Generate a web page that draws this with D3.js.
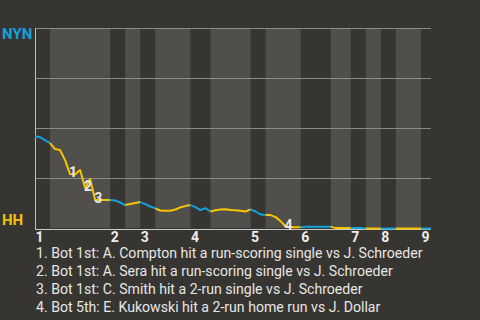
<!DOCTYPE html>
<html><head><meta charset="utf-8">
<script src="https://cdn.jsdelivr.net/npm/d3@7"></script>
<style>html,body{margin:0;padding:0;background:#373531;} svg{display:block}</style>
</head><body><svg id="c" width="480" height="320"></svg>
<script>
// Plate appearances per half inning (top 1, bot 1, top 2, ...)
const halfInningPAs = [3,12,3,3,3,7,4,8,3,7,6,4,3,3,3,5,2];
const inningLabels = ["1","2","3","4","5","6","7","8","9"];
const awayTeam = "NYN";
const homeTeam = "HH";
// Home (HH) win probability, %, after each plate appearance
const homeWinPct = [
  54.0, 54.3, 55.8, 57.3,
  60.3, 60.8, 65.8, 72.8, 73.0, 70.8, 79.8, 75.3, 85.8, 85.8, 85.8, 85.8,
  86.0, 87.0, 88.3,
  87.8, 87.3, 86.8,
  87.8, 89.0, 89.9,
  91.0, 91.1, 91.1, 90.5, 89.4, 88.8, 88.3,
  89.3, 90.8, 89.8, 91.5,
  90.9, 90.5, 90.4, 90.8, 90.9, 91.1, 91.5, 90.4,
  91.5, 93.0, 93.3,
  93.3, 94.3, 96.3, 99.0, 99.4, 99.4, 99.4,
  99.1, 99.1, 99.1, 99.1, 99.1, 99.1,
  99.8, 99.8, 99.8, 99.8,
  99.8, 99.8, 100,
  100, 100, 100,
  100, 100, 100,
  100, 100, 100, 100, 100,
  100, 100
];
const eventPAs = [7, 10, 12, 50];
const eventNotes = [
  "1. Bot 1st: A. Compton hit a run-scoring single vs J. Schroeder",
  "2. Bot 1st: A. Sera hit a run-scoring single vs J. Schroeder",
  "3. Bot 1st: C. Smith hit a 2-run single vs J. Schroeder",
  "4. Bot 5th: E. Kukowski hit a 2-run home run vs J. Dollar"
];

const BLUE = "#12a2dd", YELLOW = "#f7c500";
const svg = d3.select("#c");
const totalPA = d3.sum(halfInningPAs);
const x = d3.scaleLinear().domain([0, totalPA]).range([35, 431]);
const y = d3.scaleLinear().domain([0, 100]).range([28.5, 228.5]);

// half-inning boundaries
const starts = [];
let acc = 0;
halfInningPAs.forEach((n, i) => { starts.push({i, s: acc, e: acc + n}); acc += n; });

// bottom-half shading
svg.append("g").selectAll("rect")
  .data(starts.filter(d => d.i % 2 === 1))
  .join("rect")
  .attr("x", d => x(d.s)).attr("width", d => x(d.e) - x(d.s))
  .attr("y", 28).attr("height", 200)
  .attr("fill", "#504f4c");

// gridlines
svg.append("g").selectAll("line")
  .data([0, 25, 50, 75])
  .join("line")
  .attr("x1", 35).attr("x2", 431)
  .attr("y1", d => Math.floor(y(d)) + 0.5).attr("y2", d => Math.floor(y(d)) + 0.5)
  .attr("stroke", "#8b8986").attr("stroke-width", 1);
svg.append("line").attr("x1", 35).attr("x2", 431).attr("y1", 229.5).attr("y2", 229.5)
  .attr("stroke", "#c8c8c6").attr("stroke-width", 1);
svg.append("line").attr("x1", 35.5).attr("x2", 35.5).attr("y1", 28).attr("y2", 230)
  .attr("stroke", "#bdbcba").attr("stroke-width", 1);

// line, coloured by batting team
const line = d3.line().x(d => x(d[0])).y(d => y(d[1]));
starts.forEach(h => {
  const pts = [];
  for (let p = h.s; p <= Math.min(h.e, homeWinPct.length - 1); p++) pts.push([p, homeWinPct[p]]);
  svg.append("path").attr("d", line(pts))
    .attr("fill", "none")
    .attr("stroke", h.i % 2 === 0 ? BLUE : YELLOW)
    .attr("stroke-width", 2)
    .attr("stroke-linejoin", "round");
});

// event markers
svg.append("g").selectAll("text")
  .data(eventPAs)
  .join("text")
  .attr("x", d => x(d) + 3).attr("y", d => y(homeWinPct[d]) - 2)
  .attr("text-anchor", "middle").attr("dominant-baseline", "central")
  .attr("font-family", "Roboto, sans-serif").attr("font-weight", "bold").attr("font-size", 14)
  .attr("fill", "#e8e8e8")
  .text((d, i) => i + 1);

// inning labels
const inningStarts = starts.filter(d => d.i % 2 === 0);
svg.append("g").selectAll("text")
  .data(inningLabels)
  .join("text")
  .attr("x", (d, i) => x(inningStarts[i].s) + 0.5).attr("y", 242)
  .attr("font-family", "Roboto, sans-serif").attr("font-weight", "bold").attr("font-size", 14)
  .attr("fill", "#eeeeee")
  .text(d => d);

// team labels
svg.append("text").attr("x", 2).attr("y", 39).attr("fill", BLUE)
  .attr("font-family", "Roboto, sans-serif").attr("font-weight", "bold").attr("font-size", 15)
  .text(awayTeam);
svg.append("text").attr("x", 2).attr("y", 225).attr("fill", "#f0c10a")
  .attr("font-family", "Roboto, sans-serif").attr("font-weight", "bold").attr("font-size", 15)
  .text(homeTeam);

// notes
svg.append("g").selectAll("text")
  .data(eventNotes)
  .join("text")
  .attr("x", 36).attr("y", (d, i) => 258 + i * 18)
  .attr("font-family", "Roboto, sans-serif").attr("font-size", 14.1)
  .attr("fill", "#e6e6e4")
  .text(d => d);
</script>
</body></html>
